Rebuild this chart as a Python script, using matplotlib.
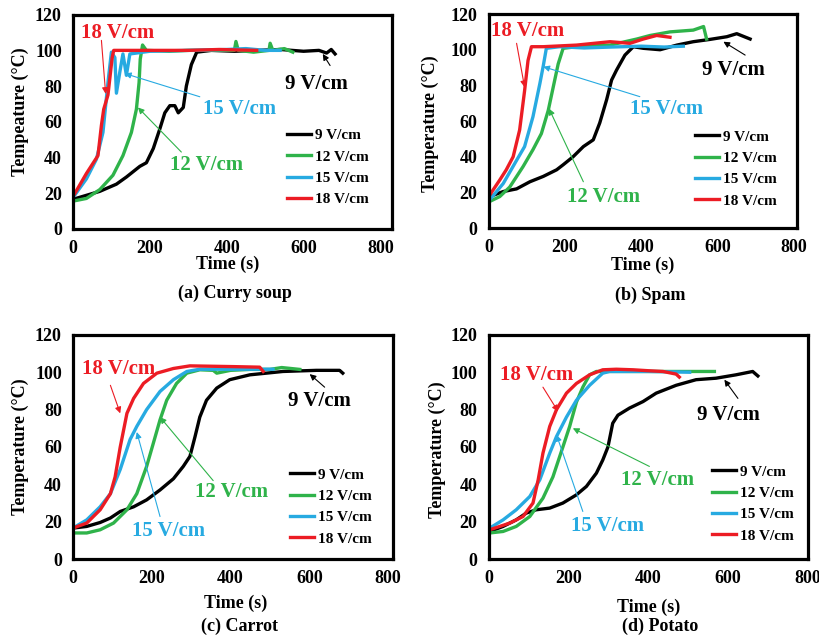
import numpy as np
import matplotlib.pyplot as plt

plt.rcParams['font.family'] = ['Liberation Serif', 'DejaVu Serif']
plt.rcParams['font.weight'] = 'bold'

BLACK = '#000000'
GREEN = '#2fb34a'
BLUE = '#27aae1'
RED = '#ec1c24'
labels = ['9 V/cm', '12 V/cm', '15 V/cm', '18 V/cm']
colors = [BLACK, GREEN, BLUE, RED]

# (a) Curry soup
a_t9 = [0, 70, 113, 139, 174, 191, 209, 226, 239, 252, 265, 274, 287, 295, 308, 322, 360, 420, 480, 540, 600, 640, 660, 672, 682]
a_T9 = [16.5, 21, 25, 29, 35, 37, 45, 56, 65, 69, 69, 65, 68, 80, 92, 99, 100, 99.5, 100, 100.5, 99.5, 100, 98.5, 100.5, 98]
a_t12 = [0, 35, 70, 104, 130, 152, 165, 172, 175, 181, 191, 250, 300, 380, 420, 424, 430, 470, 510, 513, 520, 550, 572]
a_T12 = [15.5, 17, 22, 30, 41, 54, 67, 82, 95, 103, 100, 99.5, 100, 100, 100, 105, 100, 99, 100, 104, 100, 101, 99]
a_t15 = [0, 35, 61, 78, 91, 100, 109, 113, 122, 130, 139, 148, 200, 300, 400, 450, 500, 539]
a_T15 = [17.5, 28, 39, 54, 82, 99, 96, 76, 88, 98, 86, 98, 99.5, 100, 100.5, 101, 100, 100]
a_t18 = [0, 35, 65, 74, 80, 91, 102, 106, 200, 300, 380, 478]
a_T18 = [18, 31, 41, 58, 67, 75, 96, 100, 100, 100, 100.5, 100]

# (b) Spam
b_t9 = [3, 38, 73, 108, 143, 178, 195, 221, 248, 274, 291, 309, 322, 335, 357, 379, 405, 449, 493, 536, 580, 624, 650, 685]
b_T9 = [17.7, 20.5, 22, 26, 29, 32.7, 35.5, 40, 45.7, 49.5, 59, 72, 83, 88.6, 97, 101.7, 100.8, 100, 102.6, 104.5, 105.8, 107.3, 109, 106]
b_t12 = [3, 29, 55, 90, 116, 138, 156, 169, 182, 195, 230, 318, 388, 423, 475, 536, 563, 571]
b_T12 = [15, 17.7, 23, 34.5, 44, 53, 66, 79, 92, 100.8, 101.7, 102.6, 106, 108, 110, 111, 113, 106]
b_t15 = [3, 38, 73, 94, 116, 134, 143, 151, 186, 250, 320, 400, 460, 510]
b_T15 = [16, 25, 38, 45.7, 62.5, 81, 91, 100.8, 101.7, 101, 101.5, 102, 101.5, 102]
b_t18 = [3, 29, 46, 64, 81, 94, 103, 112, 143, 230, 318, 370, 405, 440, 475]
b_T18 = [18.7, 27, 32.7, 40, 55, 77, 94, 101.7, 101.7, 102.6, 104.5, 103.6, 106, 108, 107]

# (c) Carrot
c_t9 = [0, 35, 69, 95, 120, 154, 187, 221, 255, 280, 297, 310, 322, 339, 365, 398, 449, 533, 618, 677, 685]
c_T9 = [16.6, 17.5, 19.6, 22, 25.5, 28, 31.7, 37, 43, 49.6, 55, 65.6, 76, 85, 91.5, 96, 98.6, 100.4, 101, 101, 99.5]
c_t12 = [0, 35, 69, 103, 137, 162, 187, 204, 221, 238, 263, 289, 322, 356, 365, 400, 450, 500, 530, 576]
c_T12 = [14, 14, 15.7, 19.3, 26.4, 35, 49.6, 62, 74.5, 85, 94, 99.5, 101.3, 101, 99.5, 101, 101.5, 101.5, 102.5, 101.5]
c_t15 = [0, 35, 69, 95, 120, 145, 162, 187, 221, 255, 289, 322, 400, 508]
c_T15 = [16.6, 21, 28, 35, 48, 64, 71, 80, 89.7, 96, 100.4, 101.6, 101.6, 101.6]
c_t18 = [0, 35, 69, 95, 107, 120, 137, 154, 179, 213, 255, 297, 407, 474, 483]
c_T18 = [16.6, 19.3, 26.4, 35, 44, 60, 78, 86, 94, 99.5, 102, 103.4, 103, 102.7, 100.4]

# (d) Potato
d_t9 = [2.5, 36, 69, 94, 119, 153, 186, 220, 245, 270, 286, 299, 311, 324, 353, 387, 420, 470, 520, 570, 620, 662, 675]
d_T9 = [14.8, 17.5, 21, 24.6, 26.4, 27.3, 30, 34.4, 38.9, 46, 53, 60, 72.7, 77, 80.8, 84.3, 88.8, 93, 96, 96.8, 98.6, 100.4, 98]
d_t12 = [2.5, 36, 69, 103, 136, 161, 186, 203, 220, 236, 253, 270, 400, 566]
d_T12 = [14, 14.8, 17.5, 22.8, 32.6, 44, 60, 71, 84, 92, 98.6, 100.4, 100.4, 100.4]
d_t15 = [2.5, 36, 69, 103, 128, 153, 170, 195, 220, 253, 286, 303, 400, 504]
d_T15 = [16.6, 21, 26.4, 33.5, 42.4, 56.7, 65.6, 76, 85, 93, 99.5, 100.4, 100.4, 100]
d_t18 = [2.5, 53, 86, 111, 124, 136, 153, 170, 195, 220, 253, 286, 320, 362, 400, 437, 470, 478]
d_T18 = [15.7, 19.3, 22.8, 30, 42.4, 56.7, 71, 80, 88.8, 94, 98.6, 101.3, 101.6, 101.3, 100.8, 100.4, 99, 97.4]

panels = [
    dict(rect=[0.089, 0.642, 0.389, 0.335], xmax=830, ylabel='Tempeature (°C)', caption='(a) Curry soup',
         series=[(a_t9, a_T9), (a_t12, a_T12), (a_t15, a_T15), (a_t18, a_T18)],
         # (text xy, arrow start, arrow tip)
         notes=[((634, 81), (669, 91.5), (650, 98)),
                ((348, 36), (282, 43), (169, 68)),
                ((434, 67), (330, 74), (135, 87)),
                ((117, 110), (74, 105.6), (85, 75.6))],
         leg=(0.671, 0.467), xl=(0.486, -0.125), yl=(-0.138, 0.547), cap=(235, 293)),
    dict(rect=[0.596, 0.643, 0.376, 0.335], xmax=808, ylabel='Temperature (°C)', caption='(b) Spam',
         series=[(b_t9, b_T9), (b_t12, b_T12), (b_t15, b_T15), (b_t18, b_T18)],
         notes=[((641, 88.6), (672, 97), (615, 104.5)),
                ((300, 17.7), (248, 26), (158, 67)),
                ((466, 67), (396, 73.7), (143, 90.5)),
                ((103, 110.6), (73, 103.6), (94, 79))],
         leg=(0.669, 0.458), xl=(0.5, -0.135), yl=(-0.162, 0.49), cap=(650, 295)),
    dict(rect=[0.089, 0.125, 0.390, 0.351], xmax=812, ylabel='Temperature (°C)', caption='(c) Carrot',
         series=[(c_t9, c_T9), (c_t12, c_T12), (c_t15, c_T15), (c_t18, c_T18)],
         notes=[((626, 84.7), (639, 92), (601, 99)),
                ((403, 36), (356, 42), (221, 76)),
                ((242, 14.8), (221, 22.8), (162, 68)),
                ((116, 101.6), (95, 93), (120, 78))],
         leg=(0.678, 0.406), xl=(0.51, -0.16), yl=(-0.1375, 0.5), cap=(240, 626)),
    dict(rect=[0.596, 0.125, 0.389, 0.351], xmax=800, ylabel='Temperature (°C)', caption='(d) Potato',
         series=[(d_t9, d_T9), (d_t12, d_T12), (d_t15, d_T15), (d_t18, d_T18)],
         notes=[((600, 77), (625, 86), (591, 96)),
                ((424, 42.4), (403, 49.6), (211, 70)),
                ((299, 17.5), (236, 25.5), (170, 66.5)),
                ((119, 98.6), (136, 92), (174, 79))],
         leg=(0.699, 0.42), xl=(0.5, -0.175), yl=(-0.135, 0.487), cap=(660, 626)),
]

W, H = 820, 639
fig = plt.figure(figsize=(W / 100, H / 100), dpi=100)

for p in panels:
    ax = fig.add_axes(p['rect'])
    for (t, T), c, lab in zip(p['series'], colors, labels):
        ax.plot(t, T, color=c, lw=2.4, label=lab, solid_joinstyle='round')
    ax.set_xlim(0, p['xmax'])
    ax.set_ylim(0, 120)
    ax.set_xticks(np.arange(0, 801, 200))
    ax.set_yticks(np.arange(0, 121, 20))
    ax.tick_params(length=0, labelsize=13, pad=8)
    for s in ax.spines.values():
        s.set_linewidth(2.3)
    ax.set_xlabel('Time (s)', fontsize=13, fontweight='bold')
    ax.set_ylabel(p['ylabel'], fontsize=13, fontweight='bold')
    ax.xaxis.set_label_coords(*p['xl'])
    ax.yaxis.set_label_coords(*p['yl'])

    for (txy, start, tip), c, lab in zip(p['notes'], colors, labels):
        ax.text(txy[0], txy[1], lab, color=c, fontsize=15, fontweight='bold',
                ha='center', va='center')
        ax.annotate('', xy=tip, xytext=start,
                    arrowprops=dict(arrowstyle='-|>', color=c, lw=0.8,
                                    mutation_scale=9, shrinkA=0, shrinkB=0))

    ax.legend(loc='upper left', bbox_to_anchor=p['leg'], frameon=False,
              borderpad=0, borderaxespad=0, handlelength=1.6, handletextpad=0.25,
              labelspacing=0.5, prop=dict(size=11, weight='bold'))
    fig.text(p['cap'][0] / W, 1 - p['cap'][1] / H, p['caption'], fontsize=13,
             fontweight='bold', ha='center', va='center')

fig.savefig('out.png', dpi=100)
